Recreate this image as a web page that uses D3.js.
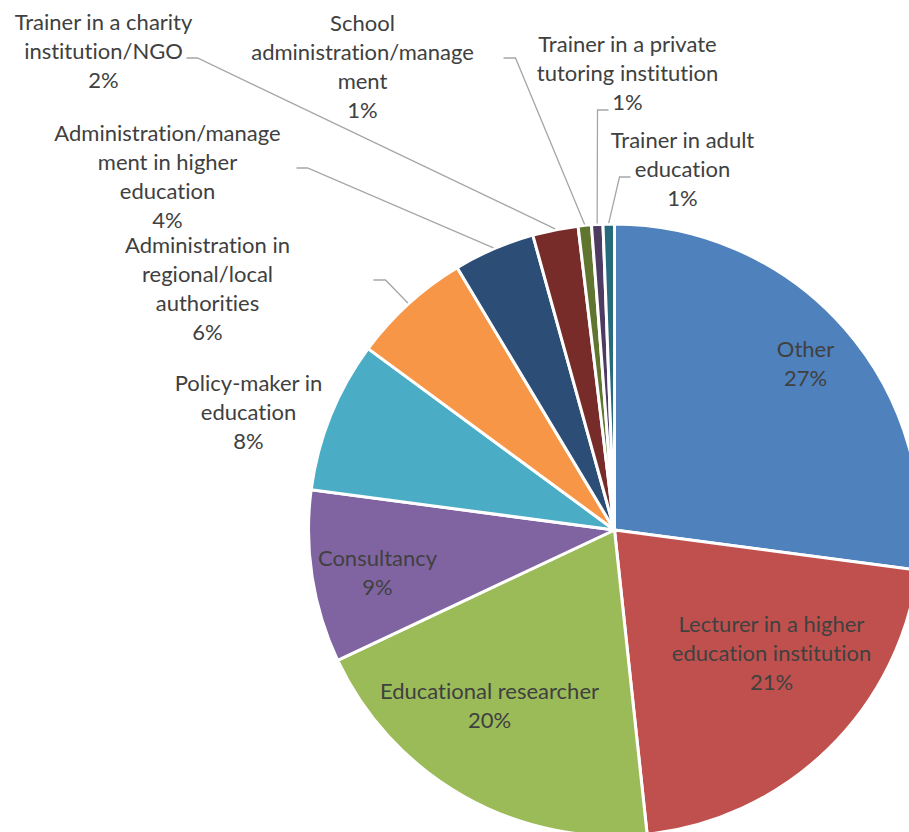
<!DOCTYPE html>
<html>
<head>
<meta charset="utf-8">
<script src="https://d3js.org/d3.v7.min.js"></script>
<style>
body { margin: 0; background: #fff; }
svg text { font-family: Lato, "Open Sans", sans-serif; font-size: 22px; fill: #404040;
  font-variant-ligatures: none; font-feature-settings: "liga" 0, "clig" 0; }
</style>
</head>
<body>
<script>
// slices, clockwise from 12 o'clock
var categories = [
  "Other",
  "Lecturer in a higher education institution",
  "Educational researcher",
  "Consultancy",
  "Policy-maker in education",
  "Administration in regional/local authorities",
  "Administration/management in higher education",
  "Trainer in a charity institution/NGO",
  "School administration/management",
  "Trainer in a private tutoring institution",
  "Trainer in adult education"
];
var shares = [27.1, 21.2, 19.7, 9.1, 8.0, 6.3, 4.3, 2.4, 0.7, 0.6, 0.6];
var colours = ["#4f81bd", "#c0504d", "#9bbb59", "#8064a2", "#4bacc6", "#f79646",
               "#2c4d75", "#772c2a", "#5f7530", "#4d3b62", "#276a7c"];

// how each label wraps, as in the original
var labelLines = [
  ["Other"],
  ["Lecturer in a higher", "education institution"],
  ["Educational researcher"],
  ["Consultancy"],
  ["Policy-maker in", "education"],
  ["Administration in", "regional/local", "authorities"],
  ["Administration/manage", "ment in higher", "education"],
  ["Trainer in a charity", "institution/NGO"],
  ["School", "administration/manage", "ment"],
  ["Trainer in a private", "tutoring institution"],
  ["Trainer in adult", "education"]
];

// label block centres (relative to pie centre) and leader elbows
var layout = [
  {dx: 191, dy: -167},
  {dx: 157, dy: 123},
  {dx: -125, dy: 175},
  {dx: -237, dy: 42},
  {dx: -366, dy: -118},
  {dx: -407, dy: -242, elbow: [[-241, -250], [-229, -250]]},
  {dx: -447, dy: -354, elbow: [[-318, -362], [-307, -362]]},
  {dx: -511, dy: -479, elbow: [[-428, -472], [-417, -472]]},
  {dx: -252, dy: -464, elbow: [[-111, -472], [-99, -472]]},
  {dx: 13, dy: -457, elbow: [[-6, -420], [-17, -420]]},
  {dx: 68, dy: -361, elbow: [[16, -353], [5, -353]]}
];

var width = 909, height = 832;
var cx = 614.5, cy = 530, radius = 306;
var lineGap = 29;

var svg = d3.select("body").append("svg")
  .attr("width", width)
  .attr("height", height);

var g = svg.append("g").attr("transform", "translate(" + cx + "," + cy + ")");

var total = d3.sum(shares);
var data = categories.map(function(c, i) {
  return {name: c, value: shares[i], colour: colours[i], lines: labelLines[i], pos: layout[i]};
});

var pie = d3.pie().value(function(d) { return d.value; }).sort(null);
var arc = d3.arc().innerRadius(0).outerRadius(radius);
var arcs = pie(data);

g.selectAll("path.slice")
  .data(arcs)
  .enter().append("path")
  .attr("class", "slice")
  .attr("d", arc)
  .attr("fill", function(d) { return d.data.colour; })
  .attr("stroke", "#fff")
  .attr("stroke-width", 3)
  .attr("stroke-linejoin", "round");

// leader lines from the slice edge to the label
g.selectAll("path.leader")
  .data(arcs.filter(function(d) { return d.data.pos.elbow; }))
  .enter().append("path")
  .attr("class", "leader")
  .attr("fill", "none")
  .attr("stroke", "#a6a6a6")
  .attr("stroke-width", 1.3)
  .attr("d", function(d) {
    var a = (d.startAngle + d.endAngle) / 2;
    var r = radius + 1;
    var pts = [[Math.sin(a) * r, -Math.cos(a) * r]].concat(d.data.pos.elbow.slice().reverse());
    return d3.line()(pts);
  });

var labels = g.selectAll("text.label")
  .data(arcs)
  .enter().append("text")
  .attr("class", "label")
  .attr("text-anchor", "middle");

labels.each(function(d) {
  var t = d3.select(this);
  var lines = d.data.lines.concat([Math.round(d.data.value / total * 100) + "%"]);
  var top = d.data.pos.dy - (lines.length - 1) * lineGap / 2 + 8;
  lines.forEach(function(l, k) {
    t.append("tspan")
      .attr("x", d.data.pos.dx)
      .attr("y", top + k * lineGap)
      .text(l);
  });
});
</script>
</body>
</html>
